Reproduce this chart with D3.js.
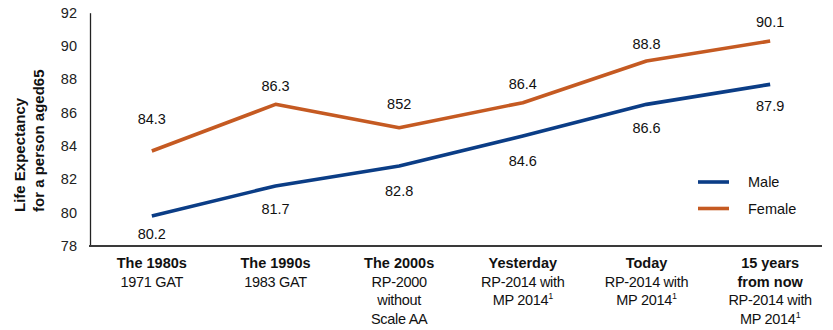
<!DOCTYPE html>
<html>
<head>
<meta charset="utf-8">
<script src="https://cdn.jsdelivr.net/npm/d3@7"></script>
<style>
  html, body { margin: 0; padding: 0; background: #fff; }
  svg { display: block; font-family: "Liberation Sans", Arial, sans-serif; }
</style>
</head>
<body>
<svg id="chart" width="833" height="330"></svg>
<script>
// ---- data ----
const categories = ["The 1980s", "The 1990s", "The 2000s", "Yesterday", "Today", "15 years\nfrom now"];
const categorySubtitles = [
  ["1971 GAT"],
  ["1983 GAT"],
  ["RP-2000", "without", "Scale AA"],
  ["RP-2014 with", "MP 2014\u00b9"],
  ["RP-2014 with", "MP 2014\u00b9"],
  ["RP-2014 with", "MP 2014\u00b9"]
];
const maleValues   = [79.8, 81.6, 82.8, 84.6, 86.5, 87.7];
const femaleValues = [83.7, 86.5, 85.1, 86.6, 89.1, 90.3];
const maleLabels   = ["80.2", "81.7", "82.8", "84.6", "86.6", "87.9"];
const femaleLabels = ["84.3", "86.3", "852", "86.4", "88.8", "90.1"];
const maleLabelValues   = [80.2, 81.7, 82.8, 84.6, 86.6, 87.9];
const femaleLabelValues = [84.3, 86.3, 85.2, 86.4, 88.8, 90.1];
const yTicks = [78, 80, 82, 84, 86, 88, 90, 92];
const seriesNames = ["Male", "Female"];
const colors = ["#0b3d86", "#c55a22"];

// ---- drawing ----
const svg = d3.select("#chart");
const x = d3.scaleBand().domain(d3.range(categories.length)).range([90, 832]);
const y = d3.scaleLinear().domain([78, 92]).range([246, 12.7]);
const cx = i => x(i) + x.bandwidth() / 2;

// y tick labels
const yAxis = d3.axisLeft(y).tickValues(yTicks).tickSize(0).tickPadding(13);
const gy = svg.append("g").attr("transform", "translate(90,0)").call(yAxis);
gy.select(".domain").attr("stroke", "#222").attr("stroke-width", 1.3);
gy.selectAll("text").attr("font-size", 14.5).attr("fill", "#222")
  .attr("font-family", "'Liberation Sans', Arial, sans-serif");

// x axis line
svg.append("line").attr("x1", 89).attr("x2", 822).attr("y1", y(78)).attr("y2", y(78))
  .attr("stroke", "#3a3a3a").attr("stroke-width", 2);

// axis title
const title = svg.append("text")
  .attr("transform", `translate(0,${212}) rotate(-90)`)
  .attr("text-anchor", "start").attr("font-weight", "bold").attr("font-size", 15).attr("fill", "#111");
title.append("tspan").attr("x", 0).attr("y", 25).text("Life Expectancy");
title.append("tspan").attr("x", 0).attr("y", 44).text("for a person aged65");

// category labels
categories.forEach((c, i) => {
  const t = svg.append("text").attr("text-anchor", "middle").attr("font-size", 14.5).attr("fill", "#111");
  const lines = c.split("\n");
  let row = 0;
  lines.forEach(l => {
    t.append("tspan").attr("x", cx(i)).attr("y", 268 + row * 18.7).attr("font-weight", "bold").text(l);
    row++;
  });
  categorySubtitles[i].forEach(l => {
    const sp = t.append("tspan").attr("x", cx(i)).attr("y", 268 + row * 18.7).attr("letter-spacing", -0.3);
    if (l.endsWith("\u00b9")) {
      sp.text(l.slice(0, -1));
      sp.append("tspan").attr("font-size", 9).attr("dy", -6).text("1");
    } else {
      sp.text(l);
    }
    row++;
  });
});

// lines
const line = d3.line().x((d, i) => cx(i)).y(d => y(d));
[maleValues, femaleValues].forEach((vals, k) => {
  svg.append("path").datum(vals).attr("d", line).attr("fill", "none")
    .attr("stroke", colors[k]).attr("stroke-width", 3.6).attr("stroke-linejoin", "round");
});

// data labels
svg.selectAll(".flab").data(femaleLabels).enter().append("text")
  .attr("x", (d, i) => cx(i)).attr("y", (d, i) => y(femaleLabelValues[i]) - 17)
  .attr("text-anchor", "middle").attr("font-size", 14.5).attr("fill", "#111").text(d => d);
svg.selectAll(".mlab").data(maleLabels).enter().append("text")
  .attr("x", (d, i) => cx(i)).attr("y", (d, i) => y(maleLabelValues[i]) + 30)
  .attr("text-anchor", "middle").attr("font-size", 14.5).attr("fill", "#111").text(d => d);

// legend
seriesNames.forEach((s, k) => {
  const ly = 182 + k * 26.5;
  svg.append("line").attr("x1", 698).attr("x2", 729).attr("y1", ly).attr("y2", ly)
    .attr("stroke", colors[k]).attr("stroke-width", 3.6);
  svg.append("text").attr("x", 748).attr("y", ly + 5).attr("font-size", 14.5).attr("fill", "#111").text(s);
});
</script>
</body>
</html>
